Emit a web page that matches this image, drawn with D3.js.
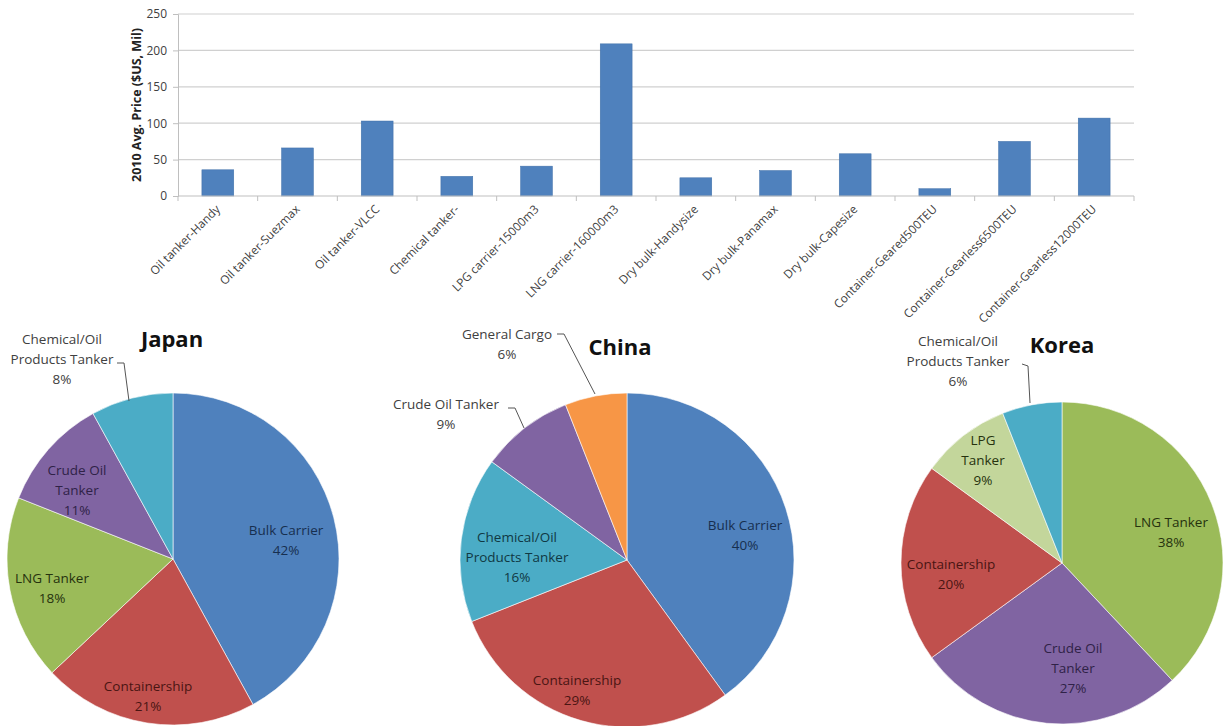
<!DOCTYPE html>
<html><head><meta charset="utf-8">
<script src="https://cdn.jsdelivr.net/npm/d3@7"></script>
<style>body{margin:0;background:#fff}svg{display:block}</style>
</head><body>
<svg id="c" width="1225" height="726"></svg>
<script>
const categories = ["Oil tanker-Handy","Oil tanker-Suezmax","Oil tanker-VLCC","Chemical tanker-","LPG carrier-15000m3","LNG carrier-160000m3","Dry bulk-Handysize","Dry bulk-Panamax","Dry bulk-Capesize","Container-Geared500TEU","Container-Gearless6500TEU","Container-Gearless12000TEU"];
const prices = [36, 66, 103, 27, 41, 209, 25, 35, 58, 10, 75, 107];
const yTicks = [0, 50, 100, 150, 200, 250];

const japanLabels = ["Bulk Carrier","Containership","LNG Tanker","Crude Oil Tanker","Chemical/Oil Products Tanker"];
const japanValues = [42, 21, 18, 11, 8];
const chinaLabels = ["Bulk Carrier","Containership","Chemical/Oil Products Tanker","Crude Oil Tanker","General Cargo"];
const chinaValues = [40, 29, 16, 9, 6];
const koreaLabels = ["LNG Tanker","Crude Oil Tanker","Containership","LPG Tanker","Chemical/Oil Products Tanker"];
const koreaValues = [38, 27, 20, 9, 6];

const colorMap = {"Bulk Carrier":"#4F81BD","Containership":"#C0504D","LNG Tanker":"#9BBB59","Crude Oil Tanker":"#8064A2","Chemical/Oil Products Tanker":"#4BACC6","General Cargo":"#F79646","LPG Tanker":"#C3D69B"};
const textMap = {"Bulk Carrier":"#172f4f","Containership":"#4a1513","LNG Tanker":"#26320e","Crude Oil Tanker":"#2f2247","Chemical/Oil Products Tanker":"#103843","General Cargo":"#404040","LPG Tanker":"#26320e"};

const svg = d3.select("#c");
const font = "'Open Sans', 'Liberation Sans', sans-serif";

// ---- Bar chart
const x = d3.scaleBand().domain(categories).range([178, 1134]).paddingInner(0.6).paddingOuter(0.3);
const y = d3.scaleLinear().domain([0, 250]).range([196, 14]);

const g = svg.append("g");
g.selectAll("line.grid").data(yTicks.slice(1)).join("line")
  .attr("x1", 178).attr("x2", 1134).attr("y1", d => y(d)).attr("y2", d => y(d))
  .attr("stroke", "#d0d0d0").attr("stroke-width", 1.2);

const yAxis = d3.axisLeft(y).tickValues(yTicks).tickSize(5).tickPadding(6);
const ya = g.append("g").attr("transform", "translate(178,0)").call(yAxis);
ya.select(".domain").attr("stroke", "#bfbfbf");
ya.selectAll(".tick line").attr("stroke", "#bfbfbf");
ya.selectAll("text").attr("font-family", font).attr("font-size", 12).attr("fill", "#404040");

g.selectAll("rect.bar").data(prices).join("rect")
  .attr("x", (d, i) => x(categories[i])).attr("width", x.bandwidth())
  .attr("y", d => y(d)).attr("height", d => y(0) - y(d))
  .attr("fill", "#4F81BD").attr("stroke", "#3f6fa8").attr("stroke-width", 0.5);

g.append("line").attr("x1", 178).attr("x2", 1134).attr("y1", y(0)).attr("y2", y(0)).attr("stroke", "#bfbfbf").attr("stroke-width", 1.2);
g.selectAll("line.xt").data(d3.range(categories.length + 1)).join("line")
  .attr("x1", i => 178 + i * (956 / categories.length)).attr("x2", i => 178 + i * (956 / categories.length))
  .attr("y1", y(0)).attr("y2", y(0) + 5).attr("stroke", "#bfbfbf");

g.selectAll("text.xl").data(categories).join("text")
  .attr("transform", d => `translate(${x(d) + x.bandwidth() / 2 + 3},${y(0) + 14}) rotate(-45)`)
  .attr("text-anchor", "end").attr("font-family", font).attr("font-size", 11.8).attr("fill", "#404040")
  .text(d => d);

g.append("text").attr("transform", "translate(141,105) rotate(-90)")
  .attr("text-anchor", "middle").attr("font-family", font).attr("font-weight", "bold")
  .attr("font-size", 12.5).attr("fill", "#222").text("2010 Avg. Price ($US, Mil)");

// ---- Pies
function pieChart(cfg) {
  const pg = svg.append("g").attr("transform", `translate(${cfg.cx},${cfg.cy})`);
  const pie = d3.pie().sort(null).value(d => d.v);
  const data = pie(cfg.labels.map((l, i) => ({l, v: cfg.values[i]})));
  const arc = d3.arc().innerRadius(0).outerRadius(cfg.r);
  pg.selectAll("path").data(data).join("path")
    .attr("d", arc).attr("fill", d => colorMap[d.data.l]).attr("stroke", "#fff").attr("stroke-width", 0.6);
  svg.append("text").attr("x", cfg.tx).attr("y", cfg.ty).attr("text-anchor", "middle")
    .attr("font-family", font).attr("font-weight", "bold").attr("font-size", 22).attr("fill", "#111").text(cfg.title);
  data.forEach((d, i) => {
    const lb = cfg.pos[i];
    const lines = lb.lines.concat([d.data.v + "%"]);
    const t = svg.append("text").attr("text-anchor", "middle").attr("font-family", font)
      .attr("font-size", 13.5).attr("fill", lb.out ? "#404040" : textMap[d.data.l]);
    lines.forEach((s, k) => t.append("tspan").attr("x", lb.x).attr("y", lb.y + k * 20).text(s));
    if (lb.leader) {
      svg.append("polyline").attr("points", lb.leader.map(p => p.join(",")).join(" "))
        .attr("fill", "none").attr("stroke", "#555").attr("stroke-width", 1);
    }
  });
}

pieChart({cx: 173, cy: 559, r: 166, title: "Japan", tx: 172, ty: 347,
  labels: japanLabels, values: japanValues,
  pos: [
    {x: 286, y: 535, lines: ["Bulk Carrier"]},
    {x: 148, y: 691, lines: ["Containership"]},
    {x: 52, y: 583, lines: ["LNG Tanker"]},
    {x: 77, y: 475, lines: ["Crude Oil", "Tanker"]},
    {x: 62, y: 344, lines: ["Chemical/Oil", "Products Tanker"], out: true, leader: [[117, 363], [124, 363], [129, 401]]}
  ]});

pieChart({cx: 627, cy: 560, r: 167, title: "China", tx: 620, ty: 355,
  labels: chinaLabels, values: chinaValues,
  pos: [
    {x: 745, y: 530, lines: ["Bulk Carrier"]},
    {x: 577, y: 685, lines: ["Containership"]},
    {x: 517, y: 542, lines: ["Chemical/Oil", "Products Tanker"]},
    {x: 446, y: 409, lines: ["Crude Oil Tanker"], out: true, leader: [[508, 408], [515, 408], [524, 428]]},
    {x: 507, y: 339, lines: ["General Cargo"], out: true, leader: [[557, 334], [564, 334], [595, 394]]}
  ]});

pieChart({cx: 1062, cy: 563, r: 161, title: "Korea", tx: 1062, ty: 353,
  labels: koreaLabels, values: koreaValues,
  pos: [
    {x: 1171, y: 527, lines: ["LNG Tanker"]},
    {x: 1073, y: 653, lines: ["Crude Oil", "Tanker"]},
    {x: 951, y: 569, lines: ["Containership"]},
    {x: 983, y: 445, lines: ["LPG", "Tanker"]},
    {x: 958, y: 346, lines: ["Chemical/Oil", "Products Tanker"], out: true, leader: [[1022, 364], [1028, 366], [1030, 403]]}
  ]});
</script>
</body></html>
